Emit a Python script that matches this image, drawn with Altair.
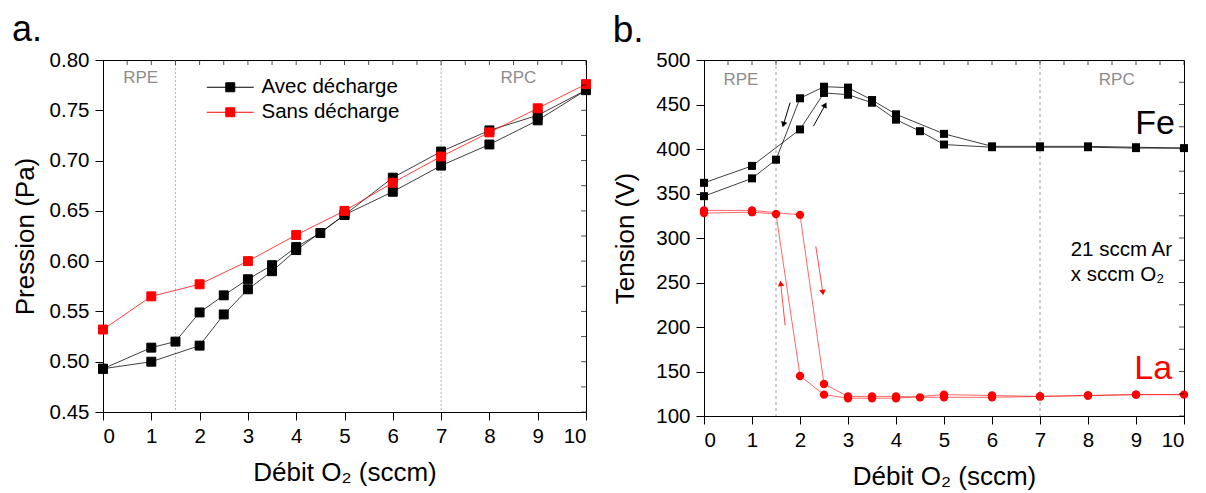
import math
import altair as alt
import pandas as pd

FONT = "Liberation Sans"

# ---------------- panel a : pressure vs O2 flow ----------------
avec_x = [0, 1, 2, 2.5, 3, 3.5, 4, 5, 6, 7, 8, 9, 10,
          9, 8, 7, 6, 5, 4.5, 4, 3.5, 3, 2.5, 2, 1.5, 1, 0]
avec_y = [0.493, 0.500, 0.516, 0.547, 0.572, 0.590, 0.611, 0.646, 0.669, 0.695, 0.716, 0.740, 0.770,
          0.745, 0.730, 0.709, 0.683, 0.646, 0.628, 0.614, 0.596, 0.582, 0.566, 0.549, 0.520, 0.514, 0.493]
sans_x = [0, 1, 2, 3, 4, 5, 6, 7, 8, 9, 10]
sans_y = [0.532, 0.565, 0.577, 0.600, 0.626, 0.650, 0.678, 0.704, 0.728, 0.752, 0.776]
series_names = ["Avec décharge", "Sans décharge"]
series_colors = ["black", "red"]

# ---------------- panel b : voltage vs O2 flow ----------------
fe_x = [0, 1, 2, 2.5, 3, 3.5, 4, 4.5, 5, 6, 7, 8, 9, 10,
        9, 8, 7, 6, 5, 4, 3.5, 3, 2.5, 2, 1.5, 1, 0]
fe_y = [362, 381, 422, 463, 461, 452, 433, 420, 405, 402, 402, 402, 401, 401,
        402, 403, 403, 403, 417, 439, 455, 469, 470, 457, 388, 367, 347]
la_x = [0, 1, 2, 2.5, 3, 3.5, 4, 4.5, 5, 6, 7, 8, 9, 10,
        9, 8, 7, 6, 5, 4, 3.5, 3, 2.5, 2, 1.5, 1, 0]
la_y = [331, 331, 326, 136, 122, 122, 122, 121, 121, 121, 122, 123, 124, 124,
        124, 123, 122, 123, 124, 120, 120, 120, 124, 145, 327, 329, 328]

# hysteresis arrows (start -> end, data units)
fe_arrow_x0 = [1.794, 2.280]
fe_arrow_y0 = [452.1, 425.7]
fe_arrow_x1 = [1.655, 2.524]
fe_arrow_y1 = [427.5, 449.5]
la_arrow_x0 = [2.329, 1.690]
la_arrow_y0 = [290.8, 201.7]
la_arrow_x1 = [2.475, 1.598]
la_arrow_y1 = [238.7, 248.9]

# regime boundaries and labels
regime_x = [1.5, 7]
regime_labels = ["RPE", "RPC"]
regime_label_x = [0.78, 8.6]

# axis ticks
x_ticks = [0, 0.5, 1, 1.5, 2, 2.5, 3, 3.5, 4, 4.5, 5, 5.5, 6, 6.5, 7, 7.5, 8, 8.5, 9, 9.5, 10]
pa_ticks = [0.45, 0.475, 0.5, 0.525, 0.55, 0.575, 0.6, 0.625, 0.65, 0.675, 0.7, 0.725, 0.75, 0.775, 0.8]
v_ticks = [100, 125, 150, 175, 200, 225, 250, 275, 300, 325, 350, 375, 400, 425, 450, 475, 500]

X_TITLE = "Débit O₂ (sccm)"

W_A, H_A = 483, 352
W_B, H_B = 480, 356

xs = alt.Scale(domain=[0, 10], nice=False, zero=False)
ys_a = alt.Scale(domain=[0.45, 0.80], nice=False, zero=False)
ys_b = alt.Scale(domain=[100, 500], nice=False, zero=False)

x_axis = alt.Axis(
    values=x_ticks,
    labelExpr="datum.value % 1 == 0 ? format(datum.value, 'd') : ''",
    tickSize={"condition": {"test": "datum.value % 1 == 0", "value": 8}, "value": 4},
    titlePadding=13,
)
ya_axis = alt.Axis(
    values=pa_ticks,
    labelExpr="abs(datum.value*20 - round(datum.value*20)) < 0.001 ? format(datum.value, '.2f') : ''",
    tickSize={"condition": {"test": "abs(datum.value*20 - round(datum.value*20)) < 0.001", "value": 8}, "value": 4},
    titlePadding=11,
)
yb_axis = alt.Axis(
    values=v_ticks,
    labelExpr="datum.value % 50 == 0 ? format(datum.value, 'd') : ''",
    tickSize={"condition": {"test": "datum.value % 50 == 0", "value": 8}, "value": 4},
    titlePadding=17,
)


def X(field="x"):
    return alt.X(f"{field}:Q", scale=xs, axis=x_axis, title=X_TITLE)


def YA(field="y"):
    return alt.Y(f"{field}:Q", scale=ys_a, axis=ya_axis, title="Pression (Pa)")


def YB(field="y"):
    return alt.Y(f"{field}:Q", scale=ys_b, axis=yb_axis, title="Tension (V)")


# ---------- data frames ----------
df_a = pd.concat([
    pd.DataFrame({"x": avec_x, "y": avec_y, "s": series_names[0], "o": range(len(avec_x))}),
    pd.DataFrame({"x": sans_x, "y": sans_y, "s": series_names[1], "o": range(len(sans_x))}),
], ignore_index=True)
df_fe = pd.DataFrame({"x": fe_x, "y": fe_y, "o": range(len(fe_x))})
df_la = pd.DataFrame({"x": la_x, "y": la_y, "o": range(len(la_x))})
df_reg = pd.DataFrame({"x": regime_x})
df_xt = pd.DataFrame({"x": x_ticks})
df_pa = pd.DataFrame({"y": pa_ticks})
df_v = pd.DataFrame({"y": v_ticks})

PX_X = W_B / 10.0          # only used to orient the arrow heads
PX_Y = H_B / 400.0


def arrows(x0, y0, x1, y1):
    ang = []
    for a, b, c, d in zip(x0, y0, x1, y1):
        dx = (c - a) * PX_X
        dy = -(d - b) * PX_Y
        ang.append(math.degrees(math.atan2(dx, -dy)) % 360)
    return pd.DataFrame({"x": x0, "y": y0, "x2": x1, "y2": y1, "ang": ang})


df_arr_fe = arrows(fe_arrow_x0, fe_arrow_y0, fe_arrow_x1, fe_arrow_y1)
df_arr_la = arrows(la_arrow_x0, la_arrow_y0, la_arrow_x1, la_arrow_y1)

color_scale = alt.Scale(domain=series_names, range=series_colors)
legend = alt.Legend(
    title=None, orient="none", legendX=117, legendY=17,
    symbolType="M-4.7,0L4.7,0M-0.9,-0.9L0.9,-0.9L0.9,0.9L-0.9,0.9Z",
    symbolSize=100, symbolStrokeWidth=1, symbolOpacity=1,
    labelFont=FONT, labelFontSize=20.5, labelColor="black", labelOffset=21,
    rowPadding=4, padding=0,
)

# ---------------- panel a ----------------
rules_a = alt.Chart(df_reg).mark_rule(strokeDash=[2, 2], color="#b5b5b5", strokeWidth=1).encode(x=X())
lines_a = alt.Chart(df_a).mark_line(strokeWidth=1, opacity=0.75).encode(
    x=X(), y=YA(), order="o:Q",
    stroke=alt.Stroke("s:N", scale=color_scale, legend=legend),
)
pts_a = alt.Chart(df_a).mark_point(shape="square", filled=True, size=80, opacity=1, strokeWidth=1).encode(
    x=X(), y=YA(),
    fill=alt.Fill("s:N", scale=color_scale, legend=legend),
    stroke=alt.Stroke("s:N", scale=color_scale, legend=legend),
)
reg_text_a = alt.Chart(pd.DataFrame({"x": regime_label_x, "y": [0.782, 0.782], "t": regime_labels})).mark_text(
    font=FONT, fontSize=17, color="#8c8c8c").encode(x=X(), y=YA(), text="t:N")
top_ticks_a = alt.Chart(df_xt).mark_tick(orient="vertical", size=10, thickness=1, color="black", clip=True).encode(
    x=X(), y=alt.datum(0.80))
right_ticks_a = alt.Chart(df_pa).mark_tick(orient="horizontal", size=10, thickness=1, color="black", clip=True).encode(
    x=alt.datum(10), y=YA())

panel_a = alt.layer(rules_a, lines_a, pts_a, reg_text_a, top_ticks_a, right_ticks_a).properties(
    width=W_A, height=H_A,
    title=alt.Title("a.", fontSize=36, anchor="start", frame="bounds", font=FONT, fontWeight="normal",
                    baseline="top", offset=1),
)

# ---------------- panel b ----------------
rules_b = alt.Chart(df_reg).mark_rule(strokeDash=[3, 3], color="#a0a0a0", strokeWidth=1).encode(x=X())
fe_line = alt.Chart(df_fe).mark_line(strokeWidth=1, color="black", opacity=0.75).encode(x=X(), y=YB(), order="o:Q")
fe_pts = alt.Chart(df_fe).mark_point(shape="square", filled=True, size=64, color="black", opacity=1).encode(x=X(), y=YB())
la_line = alt.Chart(df_la).mark_line(strokeWidth=1, color="red", opacity=0.6).encode(x=X(), y=YB(), order="o:Q")
la_pts = alt.Chart(df_la).mark_point(shape="circle", filled=True, size=70, color="red", opacity=1).encode(x=X(), y=YB())

arr_fe = alt.Chart(df_arr_fe).mark_rule(color="black", strokeWidth=1).encode(x=X(), y=YB(), x2="x2:Q", y2="y2:Q")
arr_fe_h = alt.Chart(df_arr_fe).mark_point(shape="triangle-up", filled=True, size=40, color="black", opacity=1).encode(
    x=X("x2"), y=YB("y2"), angle=alt.Angle("ang:Q", scale=None))
arr_la = alt.Chart(df_arr_la).mark_rule(color="red", strokeWidth=1, opacity=0.7).encode(x=X(), y=YB(), x2="x2:Q", y2="y2:Q")
arr_la_h = alt.Chart(df_arr_la).mark_point(shape="triangle-up", filled=True, size=40, color="red", opacity=1).encode(
    x=X("x2"), y=YB("y2"), angle=alt.Angle("ang:Q", scale=None))

reg_text_b = alt.Chart(pd.DataFrame({"x": [0.77, 8.6], "y": [478, 478], "t": regime_labels})).mark_text(
    font=FONT, fontSize=17, color="#8c8c8c").encode(x=X(), y=YB(), text="t:N")
fe_text = alt.Chart(pd.DataFrame({"x": [9.40], "y": [417.3], "t": ["Fe"]})).mark_text(
    font=FONT, fontSize=34, color="black", baseline="alphabetic").encode(x=X(), y=YB(), text="t:N")
la_text = alt.Chart(pd.DataFrame({"x": [9.36], "y": [141.6], "t": ["La"]})).mark_text(
    font=FONT, fontSize=34, color="red", baseline="alphabetic").encode(x=X(), y=YB(), text="t:N")
gas_text = alt.Chart(pd.DataFrame({"x": [7.64], "y": [279.5], "t": ["21 sccm Ar\nx sccm O₂"]})).mark_text(
    font=FONT, fontSize=20.5, color="black", align="left", baseline="alphabetic", lineBreak="\n", lineHeight=25
).encode(x=X(), y=YB(), text="t:N")
top_ticks_b = alt.Chart(df_xt).mark_tick(orient="vertical", size=10, thickness=1, color="black", clip=True).encode(
    x=X(), y=alt.datum(500))
right_ticks_b = alt.Chart(df_v).mark_tick(orient="horizontal", size=10, thickness=1, color="black", clip=True).encode(
    x=alt.datum(10), y=YB())

panel_b = alt.layer(rules_b, fe_line, la_line, fe_pts, la_pts, arr_fe, arr_fe_h, arr_la, arr_la_h,
                    reg_text_b, fe_text, la_text, gas_text, top_ticks_b, right_ticks_b).properties(
    width=W_B, height=H_B,
    title=alt.Title("b.", fontSize=37, anchor="start", frame="bounds", font=FONT, fontWeight="normal",
                    baseline="top", offset=0),
)

chart = alt.hconcat(panel_a, panel_b, spacing=19).properties(
    padding={"left": 3, "top": 3, "right": 5, "bottom": 5}
).configure_view(
    stroke="black", strokeWidth=1
).configure_axis(
    labelFont=FONT, labelFontSize=20.5, labelColor="black",
    titleFont=FONT, titleFontSize=26, titleFontWeight="normal", titleColor="black",
    domainColor="black", tickColor="black", grid=False, labelPadding=6,
    tickWidth=1, domainWidth=1,
)

chart.save("out.html", embed_options={"renderer": "svg", "actions": False})
